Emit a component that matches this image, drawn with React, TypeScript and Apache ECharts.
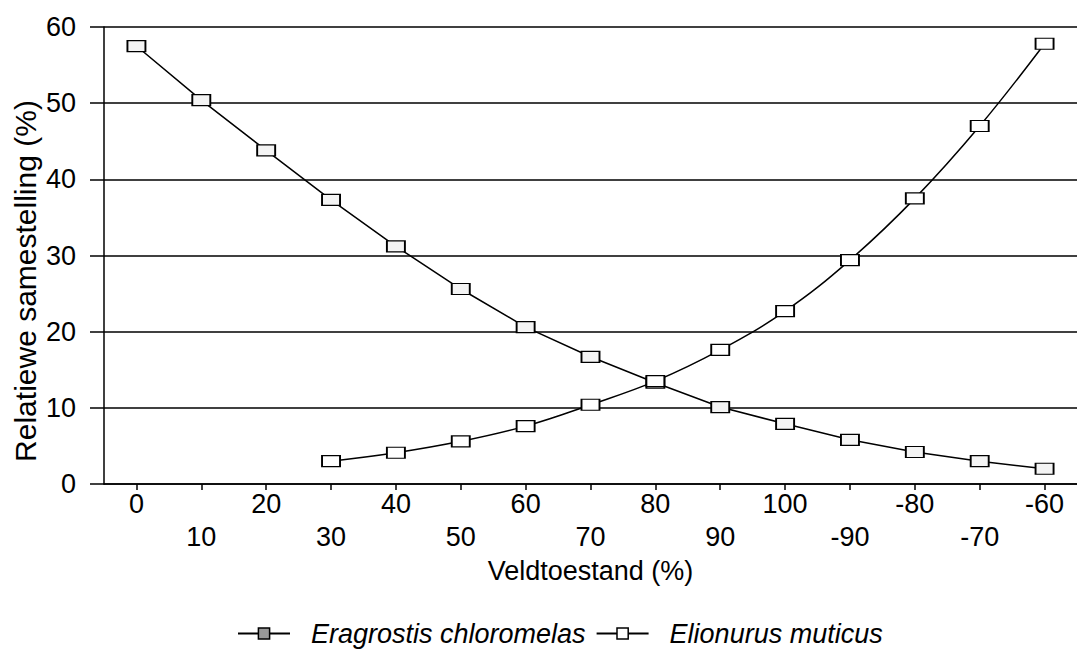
import React, { useEffect, useRef } from "react";
import * as echarts from "echarts";

const categories = ["0", "10", "20", "30", "40", "50", "60", "70", "80", "90", "100", "-90", "-80", "-70", "-60"];
const eragrostis = [57.5, 50.4, 43.8, 37.3, 31.2, 25.6, 20.6, 16.7, 13.3, 10.1, 7.9, 5.8, 4.2, 3.0, 2.0];
const elionurus = [null, null, null, 3.0, 4.1, 5.6, 7.6, 10.4, 13.5, 17.6, 22.7, 29.4, 37.5, 47.0, 57.8];
const yTicks = { min: 0, max: 60, interval: 10 };

const FONT = "'Liberation Sans', Arial, Helvetica, sans-serif";
const FS = 27;

export default function App() {
  const ref = useRef<HTMLDivElement>(null);
  useEffect(() => {
    document.body.style.margin = "0";
    const chart = echarts.init(ref.current!, null, { renderer: "svg" });
    chart.setOption({
      animation: false,
      backgroundColor: "#fff",
      textStyle: { fontFamily: FONT, color: "#000" },
      grid: { left: 104, right: -5, top: 27, bottom: 170 },
      xAxis: {
        type: "category",
        data: categories,
        boundaryGap: true,
        name: "Veldtoestand (%)",
        nameLocation: "middle",
        nameGap: 58,
        nameTextStyle: { fontSize: FS, color: "#000", fontFamily: FONT },
        axisLine: { show: true, lineStyle: { color: "#000", width: 1.5 } },
        axisTick: { show: true, alignWithLabel: true, length: 6, lineStyle: { color: "#000", width: 1.5 } },
        axisLabel: {
          interval: 0,
          fontSize: FS,
          color: "#000",
          fontFamily: FONT,
          margin: 3,
          lineHeight: 33,
          formatter: (v: string, i: number) => (i % 2 === 1 ? "\n" + v : v),
        },
        splitLine: { show: false },
      },
      yAxis: {
        type: "value",
        min: yTicks.min,
        max: yTicks.max,
        interval: yTicks.interval,
        axisLine: { show: true, lineStyle: { color: "#000", width: 1.5 } },
        axisTick: { show: true, length: 14, lineStyle: { color: "#000", width: 1.5 } },
        axisLabel: { fontSize: FS, color: "#000", fontFamily: FONT, margin: 28 },
        splitLine: { show: true, lineStyle: { color: "#000", width: 1.5 } },
      },
      legend: {
        left: 232,
        top: 615,
        itemWidth: 52,
        itemHeight: 14,
        itemGap: 10,
        textStyle: { fontSize: FS, fontStyle: "italic", color: "#000", fontFamily: FONT, padding: [0, 0, 0, 16] },
        data: [
          { name: "Eragrostis chloromelas", itemStyle: { color: "#999", borderColor: "#000", borderWidth: 1.5 } },
          { name: "Elionurus muticus", itemStyle: { color: "#fff", borderColor: "#000", borderWidth: 1.5 } },
        ],
      },
      graphic: [
        {
          type: "text",
          x: 25,
          y: 281,
          rotation: Math.PI / 2,
          style: {
            text: "Relatiewe samestelling (%)",
            fontSize: 30,
            fontFamily: FONT,
            fill: "#000",
            textAlign: "center",
            textVerticalAlign: "middle",
          },
        },
      ],
      series: [
        {
          name: "Eragrostis chloromelas",
          type: "line",
          data: eragrostis,
          symbol: "rect",
          symbolSize: [18, 11],
          lineStyle: { color: "#000", width: 1.5 },
          itemStyle: { color: "#f4f4f4", borderColor: "#000", borderWidth: 1.5 },
          z: 3,
        },
        {
          name: "Elionurus muticus",
          type: "line",
          data: elionurus,
          smooth: 0.4,
          symbol: "rect",
          symbolSize: [18, 11],
          lineStyle: { color: "#000", width: 1.5 },
          itemStyle: { color: "#fff", borderColor: "#000", borderWidth: 1.5 },
          z: 3,
        },
      ],
    });
    return () => chart.dispose();
  }, []);
  return <div ref={ref} style={{ width: 1077, height: 654, position: "absolute", left: 0, top: 0 }} />;
}
